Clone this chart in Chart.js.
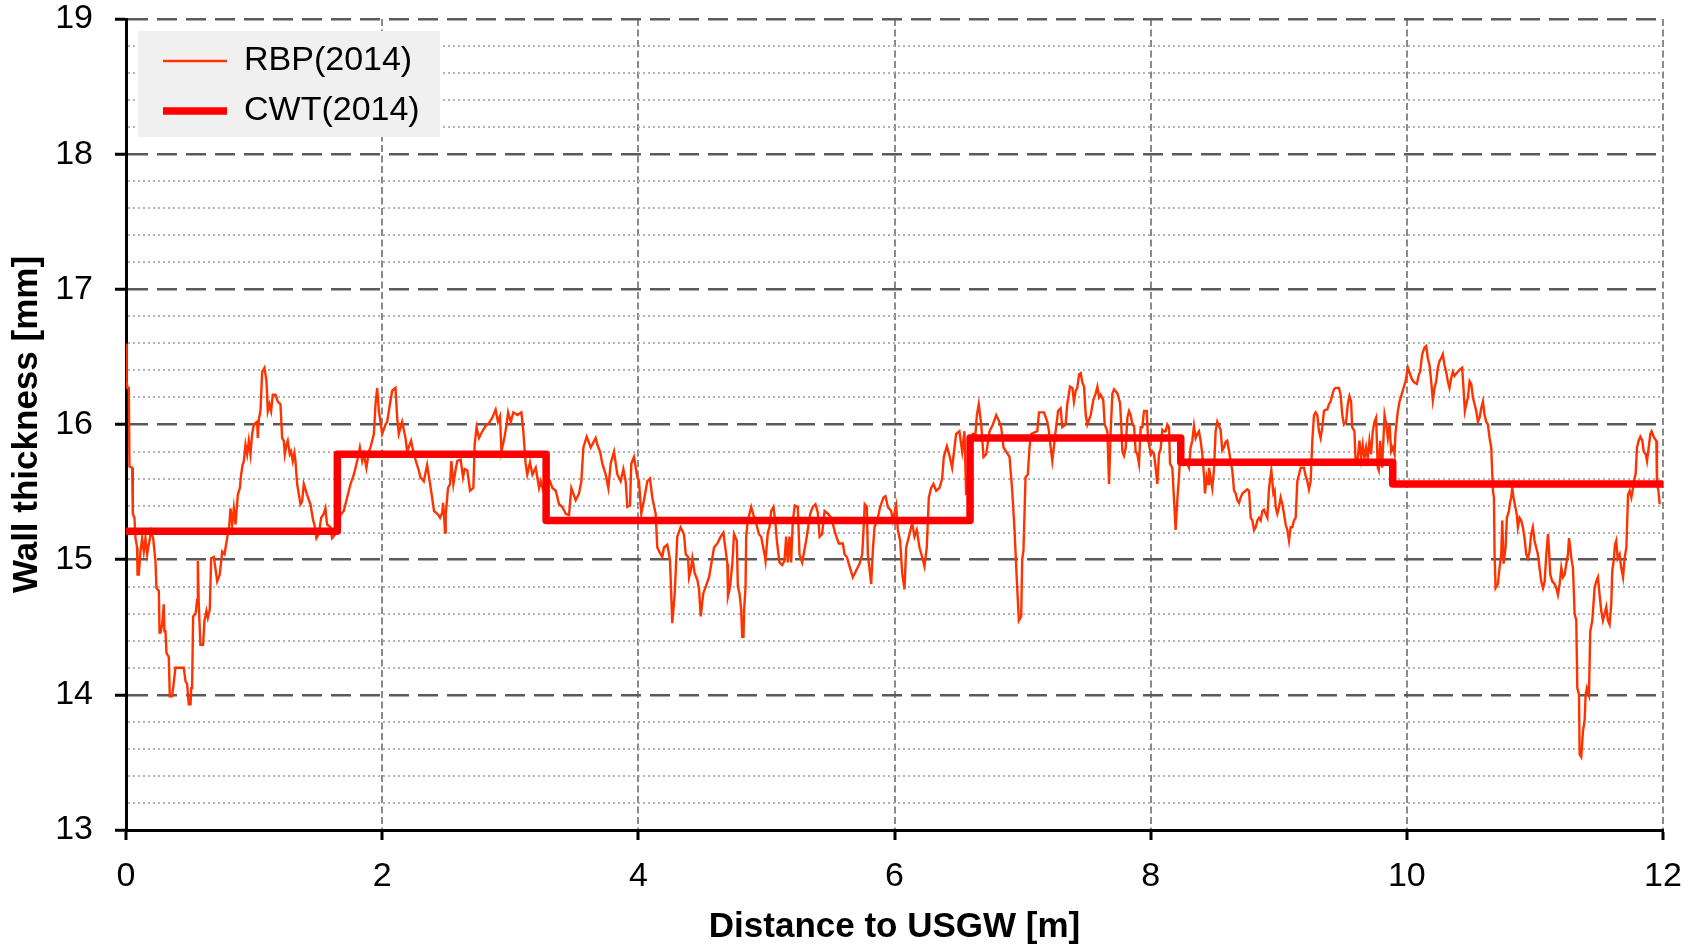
<!DOCTYPE html>
<html>
<head>
<meta charset="utf-8">
<script src="https://cdn.jsdelivr.net/npm/chart.js@4.4.1/dist/chart.umd.min.js"></script>
<style>
html,body{margin:0;padding:0;background:#ffffff;}
#wrap{width:1694px;height:946px;}
</style>
</head>
<body>
<div id="wrap"><canvas id="c" width="1694" height="946"></canvas></div>
<script>
// ---------- data ----------
const seriesNames = ['RBP(2014)', 'CWT(2014)'];
const xAxisTitle = 'Distance to USGW [m]';
const yAxisTitle = 'Wall thickness [mm]';
const xRange = [0, 12];
const yRange = [13, 19];
const xTickStep = 2;
const yMinorStep = 0.2;

// CWT(2014): [start of segment (m), wall thickness (mm)]
const cwtSteps = [[0,15.21],[1.65,15.78],[3.28,15.29],[6.59,15.90],[8.235,15.72],[9.89,15.56],[12,15.56]];

// RBP(2014): [distance (m), wall thickness (mm)]
const rbpPoints = [
[0,16.60],[0.005,16.32],[0.010,16.27],[0.022,16.27],[0.027,15.69],[0.048,15.68],[0.053,15.34],[0.066,15.31],[0.074,15.16],[0.087,15.09],[0.090,14.89],[0.100,14.89],[0.113,15.06],[0.126,15.16],[0.139,15.06],[0.152,15.16],[0.165,15.04],[0.196,15.21],[0.212,15.16],[0.230,14.99],[0.238,14.79],[0.256,14.77],[0.262,14.46],[0.270,14.46],[0.282,14.52],[0.295,14.67],[0.300,14.47],[0.308,14.47],[0.316,14.31],[0.334,14.28],[0.342,13.99],[0.360,13.99],[0.368,14.05],[0.386,14.20],[0.451,14.20],[0.465,14.10],[0.477,14.08],[0.490,13.93],[0.504,13.93],[0.509,14.05],[0.516,14.05],[0.524,14.58],[0.543,14.60],[0.555,14.70],[0.561,14.99],[0.568,14.67],[0.581,14.37],[0.602,14.37],[0.613,14.55],[0.628,14.62],[0.639,14.57],[0.654,14.63],[0.665,15.01],[0.686,15.02],[0.712,14.84],[0.732,14.89],[0.751,15.06],[0.769,15.04],[0.790,15.16],[0.805,15.24],[0.816,15.38],[0.829,15.26],[0.842,15.38],[0.855,15.26],[0.873,15.48],[0.889,15.53],[0.899,15.63],[0.910,15.70],[0.920,15.73],[0.933,15.85],[0.946,15.78],[0.959,15.88],[0.972,15.78],[0.985,15.93],[0.998,16.00],[1.024,16.02],[1.029,15.90],[1.037,16.04],[1.050,16.10],[1.063,16.39],[1.081,16.42],[1.097,16.32],[1.107,16.10],[1.120,16.15],[1.133,16.10],[1.146,16.22],[1.167,16.22],[1.185,16.17],[1.206,16.15],[1.219,15.90],[1.232,15.88],[1.240,15.78],[1.253,15.85],[1.263,15.88],[1.279,15.78],[1.289,15.80],[1.302,15.73],[1.315,15.79],[1.323,15.73],[1.336,15.56],[1.362,15.41],[1.375,15.43],[1.388,15.56],[1.414,15.48],[1.440,15.41],[1.461,15.29],[1.471,15.26],[1.487,15.16],[1.505,15.19],[1.524,15.31],[1.544,15.34],[1.557,15.38],[1.570,15.26],[1.596,15.24],[1.609,15.16],[1.635,15.19],[1.674,15.33],[1.700,15.36],[1.753,15.56],[1.779,15.63],[1.792,15.68],[1.810,15.75],[1.826,15.83],[1.844,15.73],[1.857,15.78],[1.877,15.68],[1.896,15.80],[1.909,15.83],[1.935,15.93],[1.948,16.15],[1.961,16.27],[1.974,16.10],[1.987,16.02],[2.000,15.93],[2.026,16.00],[2.039,16.02],[2.052,16.10],[2.078,16.25],[2.104,16.27],[2.117,16.05],[2.130,15.93],[2.156,16.02],[2.182,15.90],[2.195,15.80],[2.226,15.88],[2.247,15.78],[2.286,15.66],[2.299,15.61],[2.325,15.58],[2.351,15.70],
[2.366,15.61],[2.379,15.53],[2.405,15.36],[2.431,15.34],[2.452,15.31],[2.470,15.35],[2.475,15.42],[2.483,15.33],[2.491,15.20],[2.496,15.33],[2.514,15.53],[2.530,15.56],[2.540,15.73],[2.556,15.56],[2.574,15.67],[2.587,15.73],[2.613,15.74],[2.631,15.61],[2.644,15.67],[2.665,15.66],[2.686,15.51],[2.712,15.53],[2.722,15.85],[2.737,15.98],[2.756,15.90],[2.782,15.95],[2.808,15.99],[2.834,16.01],[2.860,16.05],[2.886,16.11],[2.904,16.02],[2.920,16.06],[2.931,15.80],[2.952,15.89],[2.972,16.00],[2.983,16.09],[3.004,16.02],[3.024,16.09],[3.056,16.07],[3.087,16.09],[3.102,15.95],[3.120,15.71],[3.133,15.63],[3.154,15.72],[3.173,15.63],[3.199,15.68],[3.225,15.53],[3.238,15.58],[3.258,15.51],[3.310,15.58],[3.329,15.53],[3.355,15.51],[3.381,15.41],[3.407,15.39],[3.433,15.34],[3.459,15.33],[3.477,15.53],[3.511,15.44],[3.537,15.49],[3.555,15.58],[3.571,15.83],[3.597,15.91],[3.628,15.83],[3.667,15.90],[3.680,15.85],[3.701,15.80],[3.719,15.71],[3.745,15.63],[3.766,15.53],[3.784,15.71],[3.810,15.80],[3.836,15.63],[3.862,15.58],[3.883,15.67],[3.901,15.58],[3.914,15.39],[3.935,15.40],[3.945,15.71],[3.966,15.76],[3.992,15.61],[4.005,15.58],[4.023,15.34],[4.044,15.44],[4.070,15.58],[4.091,15.60],[4.109,15.46],[4.135,15.34],[4.148,15.09],[4.174,15.04],[4.187,15.02],[4.200,15.09],[4.226,15.11],[4.247,15.00],[4.265,14.53],[4.284,14.75],[4.304,15.17],[4.330,15.24],[4.356,15.19],[4.370,15.04],[4.388,15.02],[4.396,14.87],[4.409,14.92],[4.422,15.01],[4.440,14.90],[4.461,14.85],[4.474,14.78],[4.487,14.58],[4.507,14.75],[4.526,14.80],[4.552,14.87],[4.570,14.97],[4.591,15.09],[4.617,15.12],[4.643,15.17],[4.664,15.20],[4.695,14.97],[4.700,14.73],[4.716,14.80],[4.734,14.97],[4.747,15.19],
[4.769,15.14],[4.777,14.80],[4.790,14.75],[4.803,14.63],[4.811,14.43],[4.821,14.43],[4.826,14.63],[4.837,14.80],[4.842,15.17],[4.855,15.29],[4.868,15.34],[4.881,15.39],[4.899,15.33],[4.920,15.27],[4.941,15.19],[4.959,15.17],[4.985,15.04],[4.993,14.99],[5.011,15.20],[5.024,15.24],[5.037,15.36],[5.055,15.39],[5.071,15.27],[5.081,15.14],[5.102,14.98],[5.123,14.96],[5.141,14.99],[5.154,15.17],[5.167,14.98],[5.180,15.17],[5.193,14.98],[5.206,15.29],[5.222,15.40],[5.245,15.39],[5.258,15.04],[5.279,14.98],[5.310,15.14],[5.326,15.24],[5.342,15.34],[5.362,15.39],[5.383,15.41],[5.401,15.35],[5.415,15.17],[5.435,15.19],[5.454,15.36],[5.480,15.34],[5.506,15.31],[5.539,15.19],[5.565,15.12],[5.597,15.12],[5.610,15.04],[5.628,15.02],[5.649,14.95],[5.675,14.87],[5.701,14.92],[5.727,14.97],[5.748,15.04],[5.758,15.22],[5.768,15.41],[5.784,15.39],[5.792,15.04],[5.818,14.82],[5.831,15.07],[5.844,15.24],[5.870,15.31],[5.888,15.39],[5.914,15.46],[5.930,15.47],[5.948,15.39],[5.974,15.36],[5.987,15.29],[6.013,15.40],[6.026,15.22],[6.044,15.14],[6.060,14.90],[6.078,14.78],[6.091,15.09],[6.117,15.19],[6.138,15.27],[6.156,15.17],[6.174,15.22],[6.195,15.09],[6.216,15.02],[6.234,14.95],[6.252,15.09],[6.268,15.46],[6.286,15.53],[6.304,15.56],[6.325,15.51],[6.351,15.53],[6.372,15.60],[6.385,15.76],[6.409,15.84],[6.429,15.77],[6.450,15.68],[6.481,15.93],[6.507,15.95],[6.528,15.80],[6.546,15.95],[6.559,15.49],[6.575,15.50],[6.611,15.93],[6.632,15.93],[6.643,16.07],[6.658,16.15],[6.677,16.00],[6.695,15.76],[6.716,15.78],[6.742,15.95],[6.768,16.00],[6.794,16.07],[6.814,16.03],[6.833,15.98],[6.851,15.83],[6.872,15.80],[6.898,15.76],[6.919,15.51],[6.937,15.22],[6.955,14.85],[6.971,14.55],[6.989,14.58],[6.997,15.00],[7.007,15.07],[7.023,15.61],[7.041,15.63],[7.054,15.83],[7.067,15.93],
[7.089,15.94],[7.115,15.95],[7.128,16.09],[7.167,16.09],[7.193,16.02],[7.206,15.95],[7.219,15.83],[7.232,15.73],[7.245,15.84],[7.258,15.95],[7.277,16.10],[7.297,16.12],[7.310,15.98],[7.336,16.00],[7.349,16.15],[7.370,16.28],[7.389,16.27],[7.401,16.17],[7.415,16.25],[7.427,16.27],[7.441,16.37],[7.454,16.38],[7.467,16.31],[7.480,16.28],[7.493,16.07],[7.506,16.00],[7.532,16.07],[7.552,16.18],[7.571,16.23],[7.584,16.28],[7.597,16.20],[7.610,16.22],[7.630,16.18],[7.641,16.00],[7.662,15.95],[7.675,15.56],[7.688,15.95],[7.701,16.23],[7.714,16.26],[7.740,16.23],[7.761,16.16],[7.771,15.98],[7.779,15.80],[7.792,15.77],[7.805,15.83],[7.818,16.05],[7.831,16.10],[7.844,16.07],[7.857,16.00],[7.870,15.99],[7.883,15.80],[7.896,15.78],[7.909,15.71],[7.922,15.98],[7.935,15.98],[7.948,16.10],[7.969,16.10],[7.979,15.90],[8.000,15.78],[8.013,15.80],[8.026,15.78],[8.039,15.68],[8.052,15.56],[8.065,15.78],[8.078,15.82],[8.091,15.96],[8.104,15.95],[8.117,15.95],[8.130,16.00],[8.143,15.98],[8.151,15.71],[8.169,15.68],[8.182,15.45],[8.195,15.22],[8.208,15.44],[8.221,15.61],[8.234,15.83],[8.247,15.76],[8.260,15.71],[8.273,15.73],[8.286,15.71],[8.299,15.68],[8.312,15.83],[8.325,15.88],[8.338,15.99],[8.351,15.90],[8.364,15.93],[8.377,15.95],[8.390,15.88],[8.403,15.78],[8.416,15.63],[8.424,15.49],[8.437,15.61],[8.448,15.56],[8.455,15.68],[8.468,15.61],[8.481,15.53],[8.494,15.66],[8.507,15.95],[8.520,16.02],[8.533,15.99],[8.546,15.96],[8.559,15.81],[8.572,15.83],[8.585,15.87],[8.598,15.88],[8.611,15.81],[8.624,15.73],[8.637,15.66],[8.651,15.51],[8.664,15.49],[8.676,15.44],[8.690,15.42],[8.703,15.46],[8.716,15.49],[8.742,15.51],[8.755,15.52],[8.768,15.51],[8.781,15.31],[8.794,15.29],[8.807,15.22],[8.820,15.24],[8.833,15.29],[8.846,15.31],[8.859,15.29],[8.872,15.36],[8.885,15.37],[8.911,15.31],[8.924,15.53],[8.942,15.66],[8.958,15.49],[8.968,15.51],[8.976,15.39],[8.989,15.34],[9.002,15.39],[9.015,15.46],[9.028,15.41],[9.041,15.34],[9.054,15.26],[9.067,15.22],[9.080,15.14],[9.093,15.24],[9.106,15.24],[9.119,15.29],[9.132,15.31],[9.145,15.58],[9.158,15.63],[9.171,15.68],[9.197,15.68],[9.210,15.62],[9.223,15.58],[9.236,15.52],[9.249,15.58],[9.262,15.88],[9.275,16.07],[9.288,16.09],[9.301,16.07],[9.314,15.95],[9.327,15.90],[9.340,15.98],[9.353,16.10],[9.366,16.11],[9.379,16.11],[9.392,16.15],[9.405,16.17],[9.418,16.22],[9.431,16.26],[9.444,16.27],[9.457,16.27],[9.470,16.27],[9.483,16.22],[9.496,16.07],[9.509,16.00],
[9.526,16.02],[9.539,16.15],[9.552,16.21],[9.565,16.17],[9.573,15.98],[9.591,15.95],[9.599,15.75],[9.617,15.75],[9.630,15.88],[9.643,15.75],[9.656,15.85],[9.669,15.75],[9.682,15.83],[9.695,15.75],[9.708,15.88],[9.721,15.78],[9.734,15.95],[9.747,16.02],[9.760,16.05],[9.773,15.68],[9.781,15.66],[9.792,15.88],[9.807,15.68],[9.826,16.07],[9.839,16.00],[9.852,15.90],[9.865,16.00],[9.878,15.80],[9.891,15.83],[9.904,15.78],[9.911,15.93],[9.930,16.10],[9.943,16.17],[9.956,16.21],[9.974,16.27],[9.990,16.32],[10.008,16.42],[10.026,16.37],[10.042,16.33],[10.060,16.31],[10.078,16.30],[10.094,16.37],[10.104,16.39],[10.120,16.52],[10.138,16.57],[10.151,16.58],[10.164,16.49],[10.177,16.44],[10.190,16.32],[10.203,16.18],[10.216,16.27],[10.229,16.32],[10.242,16.42],[10.255,16.47],[10.268,16.49],[10.281,16.52],[10.294,16.44],[10.307,16.39],[10.320,16.32],[10.333,16.27],[10.346,16.34],[10.359,16.39],[10.372,16.36],[10.398,16.39],[10.417,16.41],[10.432,16.42],[10.443,16.26],[10.453,16.10],[10.464,16.15],[10.477,16.20],[10.490,16.32],[10.503,16.30],[10.516,16.20],[10.529,16.15],[10.542,16.10],[10.555,16.02],[10.568,16.05],[10.581,16.12],[10.594,16.17],[10.607,16.07],[10.620,16.02],[10.633,16.00],[10.646,15.90],[10.659,15.83],[10.672,15.51],[10.680,15.46],[10.685,15.04],[10.693,14.79],[10.711,14.82],[10.724,14.94],[10.737,15.04],[10.745,15.29],[10.755,14.97],[10.771,15.09],[10.781,15.31],[10.797,15.36],[10.807,15.43],[10.815,15.46],[10.823,15.53],[10.833,15.46],[10.849,15.38],[10.859,15.33],[10.867,15.24],[10.880,15.31],[10.893,15.29],[10.906,15.24],[10.919,15.16],[10.932,15.04],[10.945,15.01],[10.958,15.06],[10.971,15.19],[10.984,15.24],[10.997,15.14],[11.010,15.09],[11.023,15.04],[11.036,14.94],[11.049,14.84],[11.063,14.79],[11.076,14.84],[11.089,15.04],[11.102,15.19],[11.109,15.09],[11.120,14.89],[11.135,14.84],[11.154,14.82],[11.167,14.79],[11.180,14.74],[11.193,14.82],[11.206,14.94],[11.219,14.87],[11.232,14.89],[11.245,14.97],[11.258,15.04],[11.266,15.16],[11.276,15.09],[11.284,15.01],[11.297,14.94],[11.310,14.60],[11.323,14.55],[11.331,14.05],[11.344,14.00],[11.349,13.56],[11.362,13.54],[11.375,13.73],[11.388,13.81],[11.396,14.00],[11.406,14.05],[11.422,14.00],[11.432,14.47],[11.448,14.55],[11.466,14.79],[11.479,14.84],[11.492,14.87],[11.505,14.74],[11.518,14.62],[11.531,14.55],[11.544,14.60],[11.557,14.65],[11.570,14.55],[11.583,14.52],[11.596,14.67],[11.604,14.92],[11.615,14.99],[11.625,15.11],[11.635,15.14],[11.646,15.01],[11.661,15.04],[11.674,14.94],[11.688,14.87],[11.700,15.01],[11.714,15.09],[11.719,15.24],[11.727,15.48],[11.740,15.51],[11.753,15.46],[11.766,15.53],[11.779,15.61],[11.786,15.63],[11.797,15.83],[11.810,15.88],[11.823,15.91],[11.839,15.88],[11.849,15.80],[11.865,15.78],[11.875,15.73],[11.891,15.85],[11.901,15.93],[11.911,15.95],[11.927,15.91],[11.938,15.89],[11.948,15.88],[11.953,15.56],[11.964,15.51],[11.974,15.41]
];

// ---------- chart ----------
const FONT = "'Liberation Sans', Arial, Helvetica, sans-serif";
Chart.defaults.font.family = FONT;
const isMajorY = v => Math.abs(v - Math.round(v)) < 1e-6;

const legendBoxPlugin = {
  id: 'legendBox',
  afterLayout(chart) {
    const lg = chart.legend;
    if (!lg) return;
    lg.left = chart.chartArea.left + 21;
    lg.top = chart.chartArea.top + 9;
    if (!lg._bgWrapped) {
      const orig = lg.draw;
      lg.draw = function (...args) {
        const ctx = this.ctx;
        ctx.save();
        ctx.fillStyle = '#f0f0f0';
        ctx.fillRect(this.left - 9, this.top + 3, 302, 106);
        ctx.restore();
        return orig.apply(this, args);
      };
      lg._bgWrapped = true;
    }
  }
};

new Chart(document.getElementById('c'), {
  type: 'line',
  data: {
    datasets: [
      {
        label: seriesNames[0],
        data: rbpPoints.map(p => ({x: p[0], y: p[1]})),
        borderColor: '#ff3300',
        backgroundColor: '#ff3300',
        borderWidth: 2.4,
        pointRadius: 0,
        pointHoverRadius: 0,
        pointStyle: 'line',
        tension: 0,
        fill: false,
        order: 2
      },
      {
        label: seriesNames[1],
        data: cwtSteps.map(p => ({x: p[0], y: p[1]})),
        stepped: 'before',
        borderColor: '#ff0000',
        backgroundColor: '#ff0000',
        borderWidth: 7.5,
        borderCapStyle: 'round',
        borderJoinStyle: 'round',
        pointRadius: 0,
        pointHoverRadius: 0,
        pointStyle: 'line',
        fill: false,
        order: 1
      }
    ]
  },
  options: {
    responsive: false,
    animation: false,
    devicePixelRatio: 1,
    layout: {padding: {left: 0, top: 19, right: 31, bottom: 0}},
    plugins: {
      legend: {
        position: 'chartArea',
        align: 'start',
        labels: {
          usePointStyle: true,
          pointStyleWidth: 64,
          padding: 16,
          color: '#000000',
          font: {family: FONT, size: 34},
          sort: (a, b) => a.datasetIndex - b.datasetIndex
        }
      },
      tooltip: {enabled: false},
      title: {display: false}
    },
    scales: {
      x: {
        type: 'linear',
        min: xRange[0],
        max: xRange[1],
        afterFit(s) { s.height = 116; s.paddingLeft = 0; s.paddingRight = 0; },
        ticks: {
          stepSize: xTickStep,
          autoSkip: false,
          maxRotation: 0,
          padding: 20,
          color: '#000000',
          font: {family: FONT, size: 34, lineHeight: 1}
        },
        grid: {
          color: '#8a8a8a',
          lineWidth: 2,
          tickLength: 10,
          tickColor: '#000000',
          tickWidth: 3,
          tickBorderDash: []
        },
        border: {
          display: true,
          color: '#000000',
          width: 3,
          dash: (c) => c.tick ? [7, 3.5] : []
        },
        title: {
          display: true,
          text: xAxisTitle,
          color: '#000000',
          font: {family: FONT, size: 35, weight: 'bold', lineHeight: 1},
          padding: {top: 0, bottom: 1}
        }
      },
      y: {
        type: 'linear',
        min: yRange[0],
        max: yRange[1],
        afterFit(s) { s.width = 126; s.paddingTop = 0; s.paddingBottom = 0; },
        ticks: {
          stepSize: yMinorStep,
          autoSkip: false,
          padding: 22,
          color: '#000000',
          font: {family: FONT, size: 34, lineHeight: 1},
          callback: (v) => isMajorY(v) ? String(Math.round(v)) : ''
        },
        grid: {
          color: (c) => (c.tick && isMajorY(c.tick.value)) ? '#5a5a5a' : '#b4b4b4',
          lineWidth: (c) => (c.tick && isMajorY(c.tick.value)) ? 2.5 : 2,
          tickLength: 11,
          tickColor: (c) => (c.tick && isMajorY(c.tick.value)) ? '#000000' : 'rgba(0,0,0,0)',
          tickWidth: 3,
          tickBorderDash: []
        },
        border: {
          display: true,
          color: '#000000',
          width: 3,
          dash: (c) => !c.tick ? [] : (isMajorY(c.tick.value) ? [20, 9] : [2, 3])
        },
        title: {
          display: true,
          text: yAxisTitle,
          color: '#000000',
          font: {family: FONT, size: 35, weight: 'bold', lineHeight: 1},
          padding: {top: 9.5, bottom: 0}
        }
      }
    }
  },
  plugins: [legendBoxPlugin]
});
</script>
</body>
</html>
